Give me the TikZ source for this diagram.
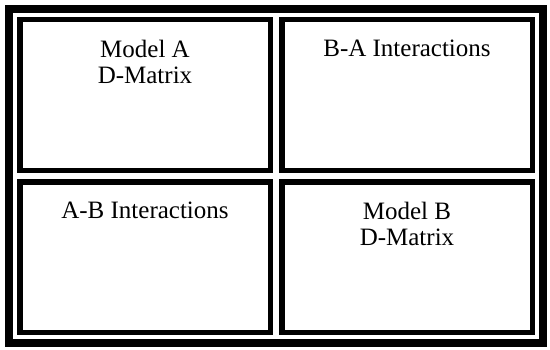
\documentclass[tikz,border=0pt]{standalone}
\usepackage{fontspec}
\setmainfont{Liberation Serif}
\usetikzlibrary{positioning,fit}

\begin{document}
\begin{tikzpicture}[
  node distance=6pt and 6pt,
  cell/.style={draw, line width=5.5pt, minimum width=250.5pt, minimum height=150.5pt},
  caption/.style={anchor=north, inner sep=0pt, align=center, font=\fontsize{25}{26}\selectfont},
  frame/.style={draw, line width=8pt, inner sep=8pt}
]
\useasboundingbox (0,0) rectangle (550pt,349pt);
\node[cell] (ma) at (145pt,254pt) {};
\node[cell, right=of ma] (ba) {};
\node[cell, below=of ma] (ab) {};
\node[cell, below=of ba] (mb) {};
\node[frame, fit=(ma) (mb)] (outer) {};

\node[caption] (matext) at ([yshift=-23pt]ma.north) {Model A\\D-Matrix};
\node[caption] (batext) at ([yshift=-23pt]ba.north) {B-A Interactions};
\node[caption] (abtext) at ([yshift=-23pt]ab.north) {A-B Interactions};
\node[caption] (mbtext) at ([yshift=-23pt]mb.north) {Model B\\D-Matrix};
\end{tikzpicture}
\end{document}
